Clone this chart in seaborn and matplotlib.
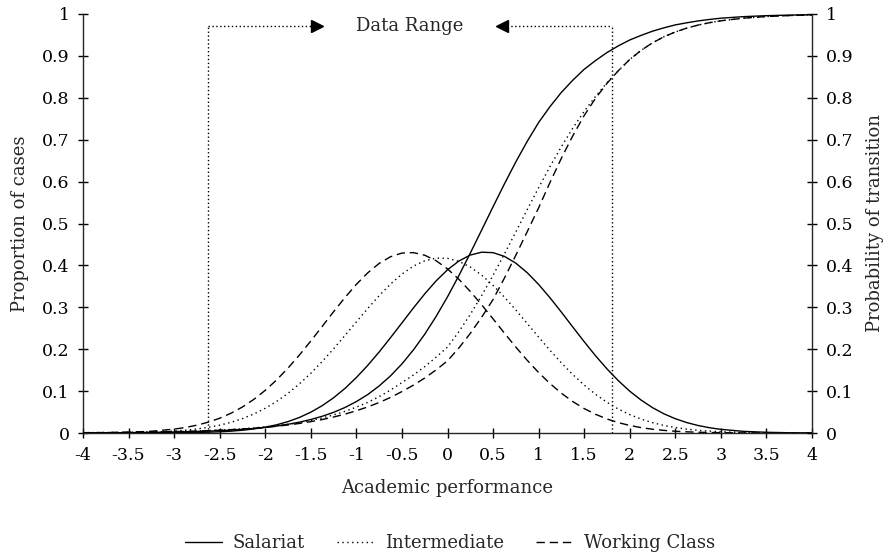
import matplotlib
matplotlib.use('Agg')
import matplotlib.pyplot as plt
import pandas as pd
import seaborn as sns
from matplotlib.lines import Line2D

sns.set_style('ticks')
plt.rcParams['font.family'] = ['DejaVu Serif']
plt.rcParams['axes.unicode_minus'] = False

# Academic performance grid
perf = [-4, -3.75, -3.5, -3.25, -3,
        -2.875, -2.75, -2.625, -2.5, -2.375, -2.25, -2.125, -2,
        -1.875, -1.75, -1.625, -1.5, -1.375, -1.25, -1.125, -1,
        -0.875, -0.75, -0.625, -0.5, -0.375, -0.25, -0.125, 0,
        0.125, 0.25, 0.375, 0.5, 0.625, 0.75, 0.875, 1,
        1.125, 1.25, 1.375, 1.5, 1.625, 1.75, 1.875, 2,
        2.125, 2.25, 2.375, 2.5, 2.625, 2.75, 2.875, 3,
        3.25, 3.5, 3.75, 4]

# Proportion of cases (left axis)
cases_salariat = [0.0000, 0.0000, 0.0001, 0.0002, 0.0005,
                  0.0007, 0.0012, 0.0019, 0.0029, 0.0044, 0.0066, 0.0097, 0.0139,
                  0.0196, 0.0272, 0.0371, 0.0497, 0.0652, 0.0841, 0.1064, 0.1324,
                  0.1615, 0.1934, 0.2276, 0.2628, 0.2981, 0.3320, 0.3630, 0.3895,
                  0.4104, 0.4247, 0.4315, 0.4304, 0.4215, 0.4053, 0.3826, 0.3546,
                  0.3227, 0.2884, 0.2529, 0.2179, 0.1842, 0.1530, 0.1248, 0.0998,
                  0.0785, 0.0605, 0.0458, 0.0341, 0.0249, 0.0179, 0.0126, 0.0087,
                  0.0039, 0.0017, 0.0006, 0.0002]
cases_intermediate = [0.0001, 0.0003, 0.0009, 0.0020, 0.0046,
                      0.0067, 0.0096, 0.0135, 0.0187, 0.0255, 0.0343, 0.0454, 0.0590,
                      0.0753, 0.0948, 0.1172, 0.1425, 0.1707, 0.2010, 0.2329, 0.2652,
                      0.2972, 0.3278, 0.3555, 0.3793, 0.3981, 0.4109, 0.4173, 0.4169,
                      0.4097, 0.3961, 0.3767, 0.3523, 0.3242, 0.2935, 0.2613, 0.2289,
                      0.1973, 0.1672, 0.1394, 0.1144, 0.0922, 0.0732, 0.0571, 0.0439,
                      0.0332, 0.0247, 0.0180, 0.0130, 0.0092, 0.0064, 0.0044, 0.0029,
                      0.0013, 0.0005, 0.0002, 0.0001]
cases_working = [0.0003, 0.0007, 0.0018, 0.0042, 0.0092,
                 0.0132, 0.0187, 0.0259, 0.0353, 0.0473, 0.0621, 0.0803, 0.1018,
                 0.1267, 0.1550, 0.1861, 0.2197, 0.2543, 0.2895, 0.3233, 0.3548,
                 0.3823, 0.4047, 0.4207, 0.4294, 0.4305, 0.4243, 0.4111, 0.3917,
                 0.3668, 0.3379, 0.3059, 0.2724, 0.2382, 0.2050, 0.1735, 0.1443,
                 0.1180, 0.0949, 0.0750, 0.0583, 0.0446, 0.0335, 0.0248, 0.0180,
                 0.0128, 0.0090, 0.0062, 0.0042, 0.0028, 0.0018, 0.0012, 0.0008,
                 0.0003, 0.0001, 0.0000, 0.0000]

# Probability of transition (right axis)
trans_salariat = [0.0004, 0.0006, 0.0009, 0.0015, 0.0023,
                  0.0029, 0.0036, 0.0045, 0.0056, 0.0069, 0.0086, 0.0108, 0.0134,
                  0.0167, 0.0208, 0.0259, 0.0322, 0.0399, 0.0493, 0.0609, 0.0750,
                  0.0918, 0.1123, 0.1364, 0.1649, 0.1980, 0.2357, 0.2782, 0.3250,
                  0.3757, 0.4292, 0.4844, 0.5400, 0.5946, 0.6471, 0.6961, 0.7411,
                  0.7790, 0.8130, 0.8420, 0.8680, 0.8890, 0.9080, 0.9240, 0.9380,
                  0.9490, 0.9590, 0.9670, 0.9740, 0.9790, 0.9835, 0.9870, 0.9900,
                  0.9937, 0.9960, 0.9974, 0.9983]
trans_intermediate = [0.0008, 0.0012, 0.0017, 0.0024, 0.0034,
                      0.0041, 0.0049, 0.0059, 0.0071, 0.0085, 0.0101, 0.0121, 0.0145,
                      0.0174, 0.0208, 0.0250, 0.0299, 0.0359, 0.0431, 0.0517, 0.0618,
                      0.0731, 0.0867, 0.1025, 0.1203, 0.1382, 0.1584, 0.1809, 0.2051,
                      0.2419, 0.2829, 0.3280, 0.3764, 0.4274, 0.4800, 0.5331, 0.5854,
                      0.6359, 0.6835, 0.7276, 0.7676, 0.8034, 0.8360, 0.8647, 0.8914,
                      0.9133, 0.9312, 0.9456, 0.9571, 0.9663, 0.9736, 0.9793, 0.9838,
                      0.9901, 0.9940, 0.9963, 0.9978]
trans_working = [0.0008, 0.0011, 0.0016, 0.0023, 0.0033,
                 0.0039, 0.0047, 0.0056, 0.0067, 0.0080, 0.0095, 0.0113, 0.0135,
                 0.0161, 0.0192, 0.0228, 0.0271, 0.0321, 0.0381, 0.0450, 0.0532,
                 0.0622, 0.0728, 0.0849, 0.0989, 0.1141, 0.1312, 0.1506, 0.1722,
                 0.2030, 0.2377, 0.2764, 0.3186, 0.3699, 0.4243, 0.4806, 0.5374,
                 0.5981, 0.6559, 0.7094, 0.7577, 0.7990, 0.8345, 0.8647, 0.8914,
                 0.9133, 0.9312, 0.9456, 0.9571, 0.9663, 0.9736, 0.9793, 0.9838,
                 0.9901, 0.9940, 0.9963, 0.9978]

classes = ['Salariat', 'Intermediate', 'Working Class']
class_dashes = {'Salariat': '', 'Intermediate': (1, 2.5), 'Working Class': (6, 3.5)}

x_ticks = [-4, -3.5, -3, -2.5, -2, -1.5, -1, -0.5, 0, 0.5, 1, 1.5, 2, 2.5, 3, 3.5, 4]
x_tick_labels = ['-4', '-3.5', '-3', '-2.5', '-2', '-1.5', '-1', '-0.5', '0',
                 '0.5', '1', '1.5', '2', '2.5', '3', '3.5', '4']
y_ticks = [0, 0.1, 0.2, 0.3, 0.4, 0.5, 0.6, 0.7, 0.8, 0.9, 1]
y_tick_labels = ['0', '0.1', '0.2', '0.3', '0.4', '0.5', '0.6', '0.7', '0.8', '0.9', '1']

# Data range annotation
range_lo, range_hi, range_top = -2.63, 1.8, 0.971
arrow_right_tip, arrow_left_tip = -1.38, 0.55

cases = pd.DataFrame({
    'perf': perf * 3,
    'value': cases_salariat + cases_intermediate + cases_working,
    'class': [c for c in classes for _ in perf],
})
trans = pd.DataFrame({
    'perf': perf * 3,
    'value': trans_salariat + trans_intermediate + trans_working,
    'class': [c for c in classes for _ in perf],
})

fig = plt.figure(figsize=(8.91, 5.57), dpi=100)
ax = fig.add_axes([83 / 891, 1 - 433 / 557, 729 / 891, 419 / 557])
ax2 = ax.twinx()

sns.lineplot(data=cases, x='perf', y='value', style='class', dashes=class_dashes,
             color='black', linewidth=1.0, legend=False, ax=ax)
sns.lineplot(data=trans, x='perf', y='value', style='class', dashes=class_dashes,
             color='black', linewidth=1.0, legend=False, ax=ax2)

for a in (ax, ax2):
    a.set_xlim(-4, 4)
    a.set_ylim(0, 1)
    a.set_yticks(y_ticks)
    a.set_yticklabels(y_tick_labels)
    a.tick_params(direction='inout', length=6.5, width=1, labelsize=12.5,
                  colors='black', pad=6.5)
    a.spines['top'].set_visible(False)

ax.spines['right'].set_visible(False)
ax2.spines['left'].set_visible(False)
ax2.spines['bottom'].set_visible(False)
ax.set_xticks(x_ticks)
ax.set_xticklabels(x_tick_labels)

ax.set_xlabel('Academic performance', fontsize=13, labelpad=11)
ax.set_ylabel('Proportion of cases', fontsize=13, labelpad=9)
ax2.set_ylabel('Probability of transition', fontsize=13, labelpad=9)

# Data range box
dot = dict(color='black', linewidth=1.0, dashes=(1, 1.8))
ax.plot([range_lo, range_lo], [0, range_top], **dot)
ax.plot([range_hi, range_hi], [0, range_top], **dot)
ax.plot([range_lo, arrow_right_tip - 0.06], [range_top, range_top], **dot)
ax.plot([arrow_left_tip + 0.06, range_hi], [range_top, range_top], **dot)
ax.plot([arrow_right_tip - 0.05], [range_top], marker='>', markersize=9, color='black')
ax.plot([arrow_left_tip + 0.05], [range_top], marker='<', markersize=9, color='black')
ax.text((arrow_right_tip + arrow_left_tip) / 2, range_top, 'Data Range',
        ha='center', va='center', fontsize=13)

for sp in list(ax.spines.values()) + list(ax2.spines.values()):
    sp.set_linewidth(1.0)

handles = [Line2D([], [], color='black', linewidth=1.0, linestyle='-')
           if c == 'Salariat' else
           Line2D([], [], color='black', linewidth=1.0, dashes=class_dashes[c])
           for c in classes]
fig.legend(handles, classes, loc='center', bbox_to_anchor=(450 / 891, 1 - 543 / 557),
           ncol=3, frameon=False, fontsize=13, handlelength=2.05, handletextpad=0.6,
           columnspacing=1.8)

fig.savefig('out.png', dpi=100)
